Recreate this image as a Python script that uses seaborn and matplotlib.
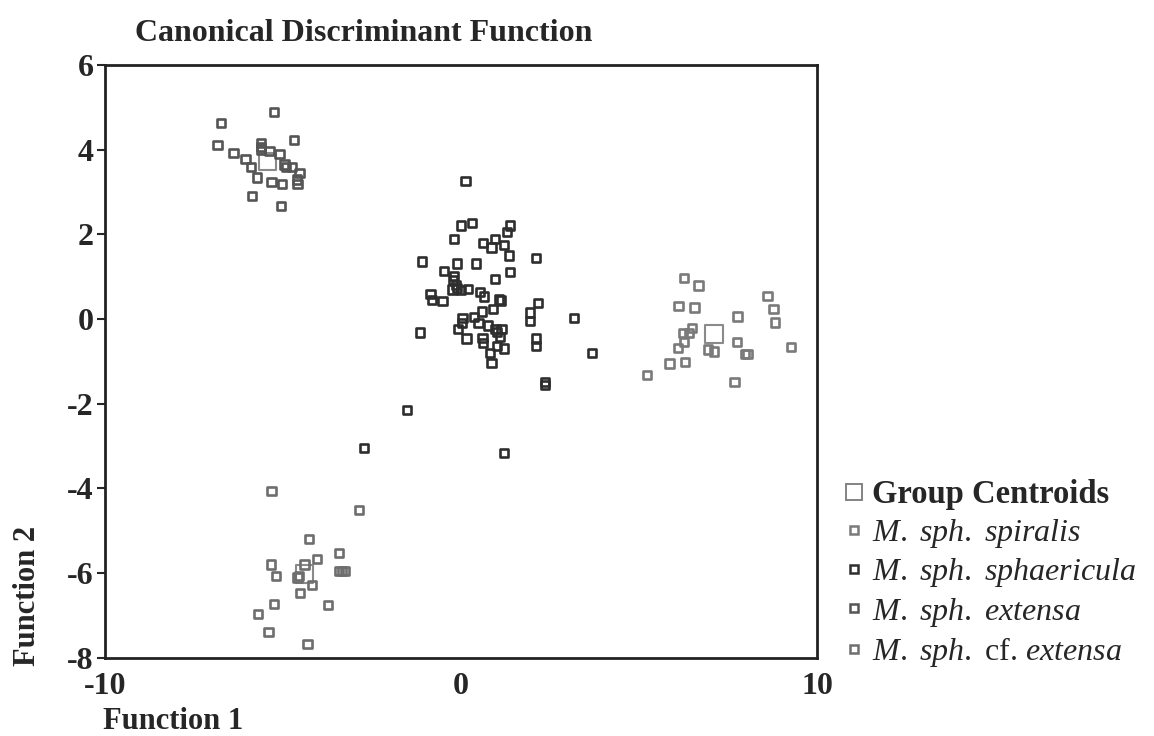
import matplotlib
matplotlib.use("Agg")
import matplotlib.pyplot as plt
import seaborn as sns
import pandas as pd
from matplotlib.lines import Line2D

# ---- data ----
spiralis_x = [6.27, 6.67, 8.61, 6.11, 6.56, 8.78, 7.77, 8.82, 6.48, 6.24, 6.40, 6.27,
              6.09, 7.75, 6.93, 7.10, 7.97, 8.05, 9.27, 5.86, 6.29, 5.23, 7.68]
spiralis_y = [0.97, 0.79, 0.54, 0.31, 0.27, 0.24, 0.06, -0.08, -0.21, -0.33, -0.33, -0.54,
              -0.68, -0.54, -0.72, -0.77, -0.83, -0.83, -0.66, -1.05, -1.01, -1.32, -1.49]

sphaericula_x = [0.13, 0.00, 0.30, 1.37, 1.29, -0.19, 0.95, 0.62, 0.86, 1.21, 1.35, -1.09,
                 2.11, -0.11, 0.43, -0.47, 1.38, -0.19, -0.22, 0.95, -0.15, -0.24, -0.11,
                 0.00, 0.19, -0.86, -0.81, -0.52, 0.54, 0.65, 1.07, 1.12, 0.90, 0.58, 2.17,
                 1.93, 1.93, 0.04, 0.02, 0.37, 0.49, 0.75, -0.09, 0.97, 1.14, 1.01, -1.16,
                 0.15, 0.60, 0.62, 1.10, 2.10, 2.10, 1.01, 1.21, 0.81, 0.86, 3.17, 3.67,
                 2.36, 2.36, -1.51, -2.72, 1.21]
sphaericula_y = [3.25, 2.21, 2.26, 2.21, 2.05, 1.89, 1.89, 1.79, 1.69, 1.74, 1.50, 1.36,
                 1.44, 1.31, 1.31, 1.13, 1.11, 1.01, 0.92, 0.94, 0.81, 0.70, 0.73,
                 0.68, 0.71, 0.59, 0.45, 0.42, 0.64, 0.53, 0.46, 0.44, 0.24, 0.18, 0.38,
                 0.15, -0.04, 0.02, -0.09, 0.05, -0.09, -0.15, -0.24, -0.23, -0.23, -0.31, -0.32,
                 -0.46, -0.45, -0.56, -0.43, -0.46, -0.64, -0.64, -0.70, -0.81, -1.04, 0.02, -0.80,
                 -1.49, -1.56, -2.15, -3.05, -3.17]

extensa_x = [-5.25, -6.74, -4.69, -6.84, -5.62, -5.62, -5.62, -5.38, -5.10, -6.39, -6.05,
             -5.90, -4.96, -4.91, -4.74, -4.54, -4.61, -4.59, -5.73, -5.32, -5.02, -5.88, -5.06]
extensa_y = [4.89, 4.62, 4.23, 4.10, 4.16, 4.06, 4.00, 3.96, 3.89, 3.91, 3.78,
             3.59, 3.65, 3.59, 3.58, 3.44, 3.29, 3.18, 3.34, 3.23, 3.18, 2.90, 2.67]

cf_extensa_x = [-5.32, -2.87, -4.27, -3.43, -4.05, -5.34, -4.40, -5.19, -3.43, -3.34, -3.25,
                -4.55, -4.59, -4.18, -4.52, -5.26, -3.73, -5.71, -5.41, -4.31]
cf_extensa_y = [-4.06, -4.50, -5.19, -5.52, -5.66, -5.79, -5.79, -6.07, -5.94, -5.94, -5.94,
                -6.07, -6.10, -6.27, -6.46, -6.73, -6.75, -6.96, -7.39, -7.67]

centroid_x = [7.10, -5.44, -4.40]
centroid_y = [-0.35, 3.72, -6.02]

group_names = ["M. sph. spiralis", "M. sph. sphaericula", "M. sph. extensa", "M. sph. cf. extensa"]
x_ticks = [-10, 0, 10]
y_ticks = [6, 4, 2, 0, -2, -4, -6, -8]

colors = {"M. sph. spiralis": "#7a7a7a", "M. sph. sphaericula": "#2e2e2e",
          "M. sph. extensa": "#555555", "M. sph. cf. extensa": "#6e6e6e"}

frames = []
for name, xs, ys in zip(group_names,
                        [spiralis_x, sphaericula_x, extensa_x, cf_extensa_x],
                        [spiralis_y, sphaericula_y, extensa_y, cf_extensa_y]):
    frames.append(pd.DataFrame({"f1": xs, "f2": ys, "group": name}))
df = pd.concat(frames, ignore_index=True)
cent = pd.DataFrame({"f1": centroid_x, "f2": centroid_y})

sns.set_style("white")
plt.rcParams["font.family"] = ["Liberation Serif", "DejaVu Serif"]
plt.rcParams["mathtext.fontset"] = "custom"
plt.rcParams["mathtext.it"] = "Liberation Serif:italic"
plt.rcParams["mathtext.rm"] = "Liberation Serif"

fig = plt.figure(figsize=(11.54, 7.36), dpi=100)
ax = fig.add_axes([0.091, 0.106, 0.617, 0.806])

for name in group_names:
    sub = df[df["group"] == name]
    sns.scatterplot(data=sub, x="f1", y="f2", ax=ax, marker="s", s=36,
                    facecolor="none", edgecolor=colors[name], linewidth=1.9,
                    legend=False, zorder=3)
sns.scatterplot(data=cent, x="f1", y="f2", ax=ax, marker="s", s=160,
                facecolor="none", edgecolor="#8a8a8a", linewidth=1.5,
                legend=False, zorder=2)

ax.set_xlim(-10, 10)
ax.set_ylim(-8, 6)
ax.set_xticks(x_ticks)
ax.set_yticks(y_ticks)
ax.set_xticklabels([str(v) for v in x_ticks], fontsize=23, fontweight="bold")
ax.set_yticklabels([str(v) for v in y_ticks], fontsize=23, fontweight="bold")
ax.tick_params(axis="y", direction="out", length=6, width=1.5, pad=2, left=True)
ax.tick_params(axis="x", length=0, pad=10)
for sp in ax.spines.values():
    sp.set_linewidth(2)
    sp.set_color("#222222")

ax.set_xlabel("")
ax.set_ylabel("")
fig.text(0.117, 0.955, "Canonical Discriminant Function", fontsize=23,
         fontweight="bold", ha="left", va="center")
fig.text(0.089, 0.020, "Function 1", fontsize=22, fontweight="bold",
         ha="left", va="center")
fig.text(0.024, 0.19, "Function 2", fontsize=22, fontweight="bold",
         ha="center", va="center", rotation=90)

handles = [Line2D([], [], marker="s", linestyle="none", markersize=12,
                  markerfacecolor="none", markeredgecolor="#7a7a7a", markeredgewidth=1.3)]
labels = ["Group Centroids"]
for name in group_names:
    handles.append(Line2D([], [], marker="s", linestyle="none", markersize=6,
                          markerfacecolor="none", markeredgecolor=colors[name],
                          markeredgewidth=1.8))
labels += [r"$M.\ sph.\ spiralis$", r"$M.\ sph.\ sphaericula$",
           r"$M.\ sph.\ extensa$", r"$M.\ sph.$ cf. $extensa$"]
leg = fig.legend(handles, labels, loc="upper left", bbox_to_anchor=(0.722, 0.366),
                 frameon=False, fontsize=23, handlelength=0.5, handletextpad=0.3,
                 labelspacing=0.2, borderaxespad=0)
leg.get_texts()[0].set_fontweight("bold")
leg.get_texts()[0].set_fontsize(23.5)

fig.savefig("out.png", dpi=100)
